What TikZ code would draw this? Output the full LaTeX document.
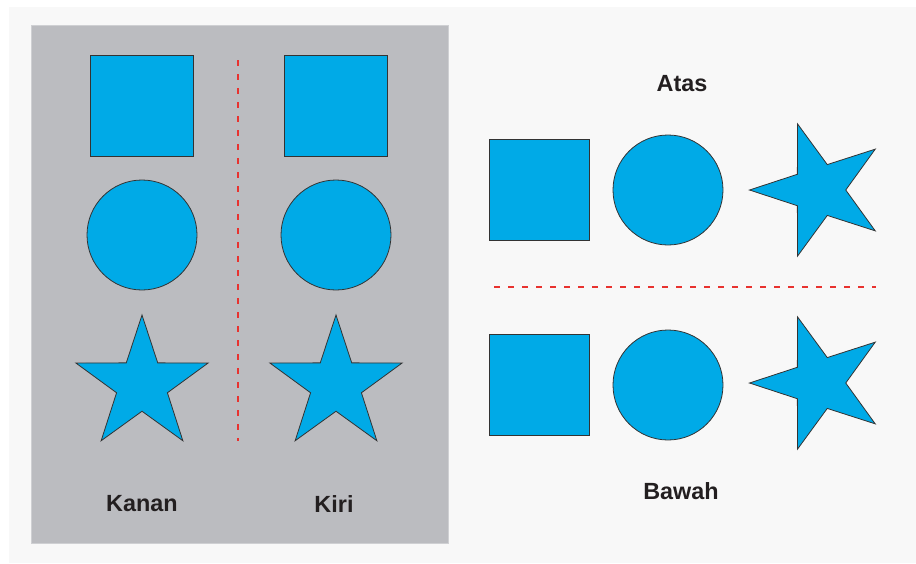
\documentclass[tikz,border=0pt]{standalone}
\usepackage{fontspec}
\setmainfont{Liberation Sans}
\usetikzlibrary{shapes.geometric}
\definecolor{ink}{HTML}{231F20}
\definecolor{edge}{HTML}{333333}
\definecolor{biru}{HTML}{00AAE7}
\definecolor{panel}{HTML}{BBBCC0}
\definecolor{kertas}{HTML}{F8F8F8}
\definecolor{garis}{HTML}{E8322F}

\begin{document}
\begin{tikzpicture}[
    x=1pt, y=-1pt,
    bentuk/.style={draw=edge, fill=biru, line width=0.8pt, inner sep=0pt},
    kotak/.style={bentuk, rectangle, minimum width=#1, minimum height=101pt},
    bulat/.style={bentuk, circle, minimum size=110pt},
    bintang/.style={bentuk, star, star points=5, star point ratio=2.6, minimum size=139pt},
    sekat/.style={garis, line width=2.8pt, dash pattern=on 6pt off 8pt},
    lab/.style={font=\fontsize{23.4}{28}\selectfont\bfseries, text=ink, inner sep=0pt}]
  % canvas 916 x 563
  \fill[white] (0,0) rectangle (916,563);
  \fill[kertas] (9,7) rectangle (916,563);

  % ================= kiri: panel abu-abu =================
  \filldraw[fill=panel, draw=panel!70!white, line width=0.8pt] (31,25) rectangle (448,543);
  \node[kotak=103pt] (kotakA) at (141.5,106) {};
  \node[bulat] (bulatA) at (142,235) {};
  \node[bintang] (bintangA) at (142,384.5) {};
  \node[kotak=103pt] (kotakB) at (335.5,106) {};
  \node[bulat] (bulatB) at (336,235) {};
  \node[bintang] (bintangB) at (336,384.5) {};
  % sumbu tegak
  \coordinate (atasV) at (238,60);
  \coordinate (bawahV) at (238,441);
  \draw[sekat] (atasV) -- (bawahV);
  \node[lab] (kanan) at (142,504) {Kanan};
  \node[lab] (kiri) at (334,504) {Kiri};

  % ================= kanan: atas dan bawah =================
  \node[lab] (atas) at (682,84) {Atas};
  \node[kotak=100pt] (kotakC) at (539.5,189.5) {};
  \node[bulat] (bulatC) at (668,190) {};
  \node[bintang, shape border rotate=90] (bintangC) at (819,190) {};
  % sumbu mendatar
  \coordinate (kiriH) at (494,287);
  \coordinate (kananH) at (876,287);
  \draw[sekat] (kiriH) -- (kananH);
  \node[kotak=100pt] (kotakD) at (539.5,384.5) {};
  \node[bulat] (bulatD) at (668,385) {};
  \node[bintang, shape border rotate=90] (bintangD) at (819,383) {};
  \node[lab] (bawah) at (681,491) {Bawah};
\end{tikzpicture}
\end{document}
